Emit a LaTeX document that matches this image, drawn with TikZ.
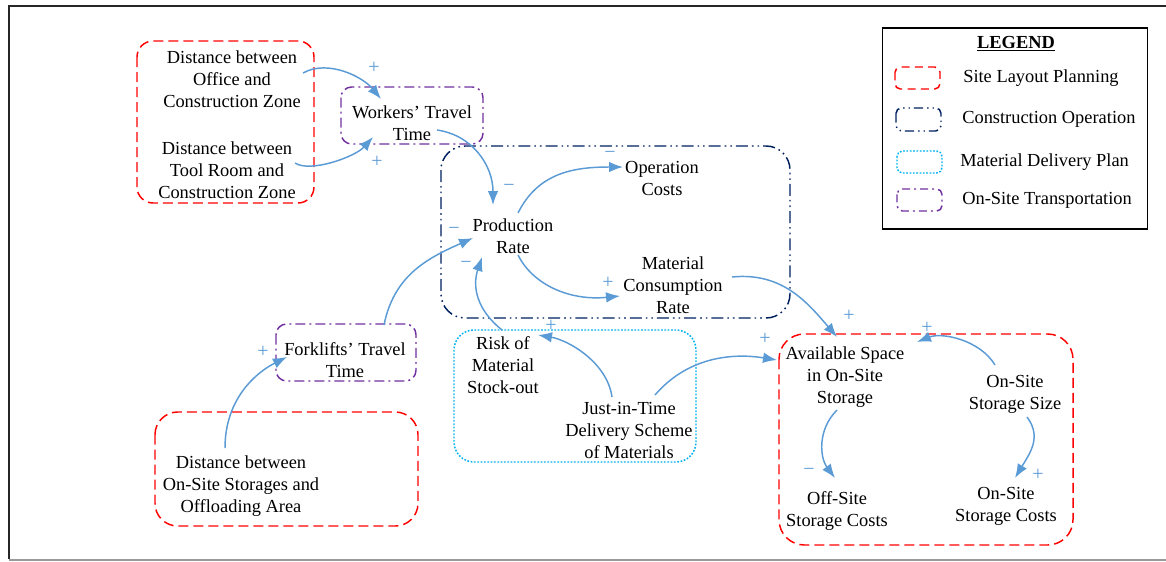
\documentclass[tikz,border=0pt]{standalone}
\usepackage{fontspec}
\setmainfont{Liberation Serif}
\usetikzlibrary{arrows.meta,calc}
\definecolor{lred}{HTML}{FF0000}
\definecolor{lnavy}{HTML}{002060}
\definecolor{lcyan}{HTML}{00B0F0}
\definecolor{lpurple}{HTML}{7030A0}
\definecolor{arrowblue}{HTML}{5B9BD5}
\begin{document}
\begin{tikzpicture}[x=0.75pt,y=-0.75pt,
 txt/.style={align=center,inner sep=0pt,font=\fontsize{13.8}{16.5}\selectfont},
 legtxt/.style={anchor=west,inner sep=0pt,font=\fontsize{13.8}{16.5}\selectfont},
 sgn/.style={inner sep=0pt,font=\fontsize{15}{15}\selectfont,text=arrowblue},
 link/.style={draw=arrowblue,line width=1.1pt,-{Latex[length=10.5pt,width=8pt]}},
 redgrp/.style={draw=lred,line width=1.1pt,dash pattern=on 7.5pt off 3.75pt},
 navygrp/.style={draw=lnavy,line width=1.1pt,dash pattern=on 9pt off 3pt on 1.2pt off 3pt on 1.2pt off 3pt},
 cyangrp/.style={draw=lcyan,line width=1.1pt,dash pattern=on 1.3pt off 1.2pt},
 purpgrp/.style={draw=lpurple,line width=1.1pt,dash pattern=on 7.5pt off 3pt on 1.5pt off 3pt}
]
\useasboundingbox (0,0) rectangle (1166,561);
% frame
\draw[line width=2.2pt,black!85] (9,559) -- (9,6) -- (1166,6);
\draw[line width=1.5pt,black!40] (9,559.5) -- (1166,559.5);

% group boxes
\draw[redgrp,rounded corners=12pt] (137,41) rectangle (314,203);
\draw[purpgrp,rounded corners=8pt] (341,87) rectangle (483,144);
\draw[navygrp,rounded corners=18pt] (441,146) rectangle (790,318);
\draw[purpgrp,rounded corners=8pt] (276,324) rectangle (416,381);
\draw[redgrp,rounded corners=17pt] (155,412) rectangle (418,526);
\draw[cyangrp,rounded corners=15pt] (454,330) rectangle (696,462);
\draw[redgrp,rounded corners=19pt] (779,334) rectangle (1073,545);

% legend
\node[draw,line width=1.1pt,minimum width=198.75pt,minimum height=150.75pt,inner sep=0pt] (legend) at (1015,128.5) {};
\node[inner sep=0pt,font=\fontsize{13.8}{16.5}\selectfont\bfseries] (legtitle) at (1016,44) {\underline{LEGEND}};
\draw[redgrp,dash pattern=on 6pt off 4pt,rounded corners=4pt] (895,67) rectangle (940,89);
\draw[navygrp,dash pattern=on 7pt off 3pt on 1pt off 3pt on 1pt off 3pt,rounded corners=4pt] (896,108) rectangle (941,131);
\draw[cyangrp,rounded corners=4pt] (897,151) rectangle (942,173);
\draw[purpgrp,dash pattern=on 6pt off 3pt on 1.5pt off 3pt,rounded corners=4pt] (897,189) rectangle (942,211);
\node[legtxt] (l1) at (963,78) {Site Layout Planning};
\node[legtxt] (l2) at (962,119) {Construction Operation};
\node[legtxt] (l3) at (960,162) {Material Delivery Plan};
\node[legtxt] (l4) at (962,200) {On-Site Transportation};

% variables
\node[txt] (off) at (232,79) {Distance between\\Office and\\Construction Zone};
\node[txt] (tool) at (227,170) {Distance between\\Tool Room and\\Construction Zone};
\node[txt] (wtt) at (412,123) {Workers’ Travel\\Time};
\node[txt] (pr) at (513,236) {Production\\Rate};
\node[txt] (oc) at (662,178) {Operation\\Costs};
\node[txt] (mcr) at (673,285) {Material\\Consumption\\Rate};
\node[txt] (ftt) at (345,360) {Forklifts’ Travel\\Time};
\node[txt] (dos) at (241,486) {Distance between\\On-Site Storages and\\Offloading Area};
\node[txt] (risk) at (503,365) {Risk of\\Material\\Stock-out};
\node[txt] (jit) at (629,430) {Just-in-Time\\Delivery Scheme\\of Materials};
\node[txt] (avs) at (845,377) {Available Space\\in On-Site\\Storage};
\node[txt] (oss) at (1015,394) {On-Site\\Storage Size};
\node[txt] (offc) at (837,511) {Off-Site\\Storage Costs};
\node[txt] (onc) at (1006,506) {On-Site\\Storage Costs};

% links
\draw[link] ($(off)+(71,-6)$) .. controls +(25,-14) and +(-18,-22) .. ($(wtt)+(-31,-24)$);
\draw[link] ($(tool)+(68,-7)$) .. controls +(15,10) and +(-18,20) .. ($(wtt)+(-39,14)$);
\draw[link] ($(wtt)+(25,7)$) .. controls +(35,5) and +(0,-40) .. ($(pr)+(-20,-31)$);
\draw[link] ($(pr)+(5,-23)$) .. controls +(20,-40) and +(-50,0) .. ($(oc)+(-39,-11)$);
\draw[link] ($(pr)+(5,19)$) .. controls +(15,30) and +(-50,5) .. ($(mcr)+(-53,11)$);
\draw[link] ($(ftt)+(39,-35)$) .. controls +(10,-50) and +(-45,20) .. ($(pr)+(-40,2)$);
\draw[link] ($(risk)+(-1,-35)$) .. controls +(-25,-20) and +(-10,30) .. ($(pr)+(-31,21)$);
\draw[link] ($(dos)+(-16,-38)$) .. controls +(0,-50) and +(-30,15) .. ($(ftt)+(-58,-3)$);
\draw[link] ($(jit)+(-17,-33)$) .. controls +(-5,-35) and +(30,5) .. ($(risk)+(35,-30)$);
\draw[link] ($(jit)+(26,-35)$) .. controls +(30,-35) and +(-50,-8) .. ($(avs)+(-68,-17)$);
\draw[link] ($(mcr)+(59,-8)$) .. controls +(50,-5) and +(-30,-35) .. ($(avs)+(-8,-40)$);
\draw[link] ($(oss)+(-20,-29)$) .. controls +(-15,-25) and +(25,-10) .. ($(avs)+(72,-35)$);
\draw[link] ($(avs)+(-8,33)$) .. controls +(-20,20) and +(-15,-20) .. ($(offc)+(-2,-33)$);
\draw[link] ($(oss)+(12,23)$) .. controls +(15,20) and +(15,-25) .. ($(onc)+(9,-28)$);

% polarity signs
\node[sgn] (s1) at (374,68) {+};
\node[sgn] (s2) at (377,162) {+};
\node[sgn] (s3) at (509,188) {−};
\node[sgn] (s4) at (610,155) {−};
\node[sgn] (s5) at (608,283) {+};
\node[sgn] (s6) at (454,231) {−};
\node[sgn] (s7) at (466,265) {−};
\node[sgn] (s8) at (263,352) {+};
\node[sgn] (s9) at (551,326) {+};
\node[sgn] (s10) at (765,339) {+};
\node[sgn] (s11) at (849,316) {+};
\node[sgn] (s12) at (927,328) {+};
\node[sgn] (s13) at (809,472) {−};
\node[sgn] (s14) at (1038,475) {+};
\end{tikzpicture}
\end{document}
